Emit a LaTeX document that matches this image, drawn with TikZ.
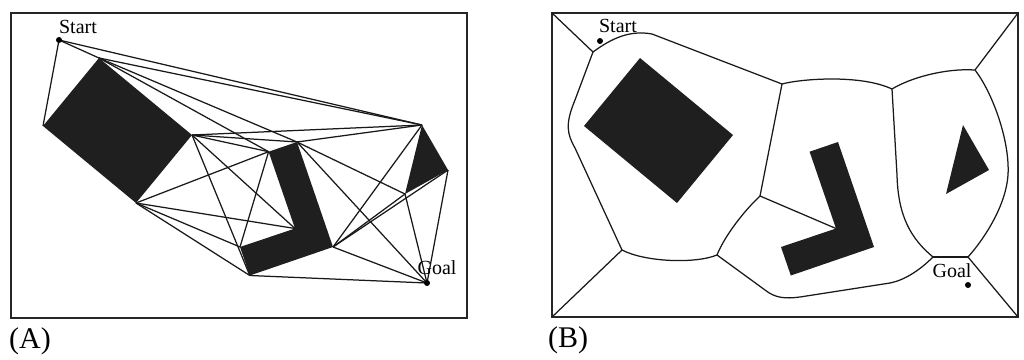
\documentclass[tikz,border=0pt]{standalone}
\usepackage{fontspec}
\setmainfont{Liberation Serif}
\begin{document}
\begin{tikzpicture}[x=1pt,y=-1pt,
  frame/.style={draw=black!85, line width=2.4pt},
  obst/.style={fill=black!88, draw=none},
  edge/.style={line width=1.25pt, draw=black!90},
  road/.style={line width=1.25pt, draw=black!90, line join=round},
  lbl/.style={font=\fontsize{20}{20}\selectfont, inner sep=0pt},
  panellbl/.style={font=\fontsize{30}{30}\selectfont, inner sep=0pt},
  dotmark/.style={fill=black}]
\useasboundingbox (0,0) rectangle (1024,359);

% ---------------- Panel A: visibility graph ----------------
\draw[frame] (11,13) rectangle (467,318);
\coordinate (S) at (59,40);
\coordinate (G) at (427,283);
\coordinate (A1) at (99,58);
\coordinate (A2) at (192,135);
\coordinate (A3) at (136,203);
\coordinate (A4) at (43,126);
\coordinate (L1) at (268.6,151.7);
\coordinate (L2) at (297,142);
\coordinate (L3) at (333,247);
\coordinate (L4) at (249.8,275.5);
\coordinate (L5) at (240,247);
\coordinate (L6) at (295,228.5);
\coordinate (T1) at (422,125);
\coordinate (T2) at (448,170);
\coordinate (T3) at (405,194);

\foreach \a/\b in {S/A4,S/A1,S/T1,
  A1/T1,A1/L2,A1/L1,
  A2/T1,A2/L2,A2/L1,A2/L6,A2/L4,
  A3/L1,A3/L6,A3/L5,A3/L4,
  L1/L5,
  L2/T1,L2/T3,L2/G,
  L3/T1,L3/T2,L3/T3,L3/G,
  L4/G,T2/G,T3/G}
  \draw[edge] (\a) -- (\b);

\fill[obst] (A1) -- (A2) -- (A3) -- (A4) -- cycle;
\fill[obst] (L1) -- (L2) -- (L3) -- (L4) -- (L5) -- (L6) -- cycle;
\fill[obst] (T1) -- (T2) -- (T3) -- cycle;
\fill[dotmark] (S) circle (3);
\fill[dotmark] (G) circle (3);
\node[lbl] (startA) at (78,27) {Start};
\node[lbl] (goalA) at (437,268) {Goal};
\node[panellbl] (labA) at (30,341) {(A)};

% ---------------- Panel B: Voronoi roadmap ----------------
\draw[frame] (552,13) rectangle (1018,317);
\coordinate (BTL) at (552,13);
\coordinate (BTR) at (1018,13);
\coordinate (BBL) at (552,317);
\coordinate (BBR) at (1018,317);
\coordinate (SB) at (600,41);
\coordinate (GB) at (968,285);
\coordinate (V1) at (593,52);
\coordinate (V2) at (782,84);
\coordinate (V3) at (892,89);
\coordinate (V4) at (975,70);
\coordinate (V5) at (622,250);
\coordinate (V6) at (717,255);
\coordinate (V7) at (760,196);
\coordinate (V8) at (933,257);
\coordinate (V9) at (968,257);
\coordinate (VI) at (836,228.5);

\draw[road] (BTL) -- (V1);
\draw[road] (V1) .. controls (612,38) and (630,30) .. (652,34) -- (V2);
\draw[road] (V1) -- (575,100) .. controls (565,124) and (567,134) .. (575,148) -- (V5);
\draw[road] (V5) -- (BBL);
\draw[road] (V5) .. controls (645,262) and (695,264) .. (V6);
\draw[road] (V6) .. controls (725,235) and (745,210) .. (V7);
\draw[road] (V7) -- (V2);
\draw[road] (V7) -- (VI);
\draw[road] (V6) -- (765,290) .. controls (775,298) and (785,299) .. (800,297) -- (890,283) .. controls (905,280) and (920,270) .. (V8);
\draw[road] (V8) -- (V9);
\draw[road] (V9) -- (BBR);
\draw[road] (V8) .. controls (910,238) and (898,215) .. (897,175) -- (V3);
\draw[road] (V2) .. controls (800,79) and (860,74) .. (V3);
\draw[road] (V3) .. controls (910,78) and (945,68) .. (V4);
\draw[road] (V4) -- (BTR);
\draw[road] (V4) .. controls (992,92) and (1010,140) .. (1008,175) .. controls (1006,205) and (985,238) .. (V9);

\begin{scope}[xshift=541pt]
\fill[obst] (99,58) -- (192,135) -- (136,203) -- (43,126) -- cycle;
\fill[obst] (268.6,151.7) -- (297,142) -- (333,247) -- (249.8,275.5) -- (240,247) -- (295,228.5) -- cycle;
\fill[obst] (422,125) -- (448,170) -- (405,194) -- cycle;
\end{scope}
\fill[dotmark] (SB) circle (3);
\fill[dotmark] (GB) circle (3);
\node[lbl] (startB) at (618,26) {Start};
\node[lbl] (goalB) at (952,271) {Goal};
\node[panellbl] (labB) at (568,340) {(B)};
\end{tikzpicture}
\end{document}
